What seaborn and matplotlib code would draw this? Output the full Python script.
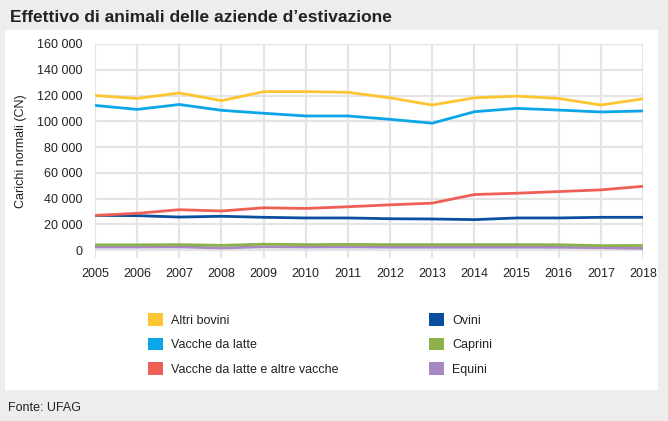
import matplotlib
matplotlib.use("Agg")
import matplotlib.pyplot as plt
import matplotlib.patches as mpatches
import seaborn as sns
import pandas as pd

years = list(range(2005, 2019))
altri_bovini = [120000, 117700, 122000, 116000, 123000, 123000, 122500, 118200, 112600, 118200, 119500, 117700, 112600, 117400]
vacche_latte = [112300, 109200, 113000, 108500, 106200, 104100, 104100, 101500, 98500, 107400, 110000, 108700, 107200, 108000]
vacche_altre = [26900, 28500, 31300, 30300, 32800, 32300, 33600, 35100, 36400, 43100, 44100, 45400, 46700, 49500]
ovini = [26900, 26700, 25600, 26200, 25400, 24900, 24900, 24300, 24100, 23600, 24900, 24900, 25400, 25400]
caprini = [4000, 4000, 4200, 3600, 4500, 4200, 4300, 4200, 4200, 4200, 4200, 4100, 3400, 3500]
equini = [2300, 2300, 2400, 1600, 2500, 2300, 2400, 2200, 2200, 2200, 2200, 2100, 1800, 1300]

series_names = ["Altri bovini", "Vacche da latte", "Vacche da latte e altre vacche",
                "Ovini", "Caprini", "Equini"]
series_values = [altri_bovini, vacche_latte, vacche_altre, ovini, caprini, equini]
colors = ["#fdc530", "#0aa6e6", "#ee6055", "#0a4f9f", "#8db14a", "#a688c2"]
y_ticks = [0, 20000, 40000, 60000, 80000, 100000, 120000, 140000, 160000]
y_tick_labels = ["0", "20 000", "40 000", "60 000", "80 000", "100 000", "120 000", "140 000", "160 000"]

rows = []
for name, vals in zip(series_names, series_values):
    for y, v in zip(years, vals):
        rows.append({"Anno": y, "CN": v, "Serie": name})
df = pd.DataFrame(rows)

sns.set_theme(style="whitegrid")
FONT = ["Liberation Sans", "DejaVu Sans"]
plt.rcParams["font.family"] = FONT

fig = plt.figure(figsize=(6.68, 4.21), dpi=100)
fig.patch.set_facecolor("#ededed")
# white panel
panel = mpatches.Rectangle((5 / 668, 1 - 390 / 421), 653 / 668, 360 / 421,
                           transform=fig.transFigure, facecolor="white",
                           edgecolor="none", zorder=-10)
fig.patches.append(panel)

ax = fig.add_axes([95 / 668, 1 - 258 / 421, 548 / 668, 214 / 421])
ax.set_facecolor("none")
ax.set_zorder(2)

order = ["Equini", "Caprini", "Ovini", "Vacche da latte e altre vacche", "Vacche da latte", "Altri bovini"]
pal = dict(zip(series_names, colors))
for name in order:
    sub = df[df["Serie"] == name]
    sns.lineplot(data=sub, x="Anno", y="CN", color=pal[name], lw=2.0, ax=ax, legend=False)

ax.set_xlim(2005, 2018)
ax.set_ylim(-6200, 160000)
ax.set_xticks(years)
ax.set_xticklabels([str(y) for y in years], fontsize=9, color="#222222")
ax.set_yticks(y_ticks)
ax.set_yticklabels(y_tick_labels, fontsize=9, color="#222222")
ax.tick_params(axis="both", length=0)
ax.tick_params(axis="x", pad=7)
ax.tick_params(axis="y", pad=9)
ax.grid(True, color="#e4e4e4", lw=1.6)
for s in ax.spines.values():
    s.set_visible(False)
ax.set_xlabel("")
ax.set_ylabel("Carichi normali (CN)", fontsize=9, color="#222222", labelpad=7)

fig.text(10 / 668, 1 - 17 / 421, "Effettivo di animali delle aziende d\u2019estivazione",
         fontsize=12.5, fontweight="bold", color="#222222", va="center", ha="left")
fig.text(8 / 668, 1 - 408 / 421, "Fonte: UFAG", fontsize=9, color="#222222",
         va="center", ha="left")

def handles(names):
    return [mpatches.Patch(facecolor=pal[n], edgecolor="none", label=n) for n in names]

common = dict(frameon=False, fontsize=9, handlelength=1.2, handleheight=1.2,
              handletextpad=0.65, labelspacing=0.88, borderpad=0, borderaxespad=0)
leg1 = fig.legend(handles=handles(series_names[:3]), loc="upper left",
                  bbox_to_anchor=(148 / 668, 1 - 313 / 421), **common)
leg2 = fig.legend(handles=handles(series_names[3:]), loc="upper left",
                  bbox_to_anchor=(429 / 668, 1 - 313 / 421), **common)
for leg in (leg1, leg2):
    for t in leg.get_texts():
        t.set_color("#222222")

fig.savefig("out.png", dpi=100, facecolor=fig.get_facecolor())
